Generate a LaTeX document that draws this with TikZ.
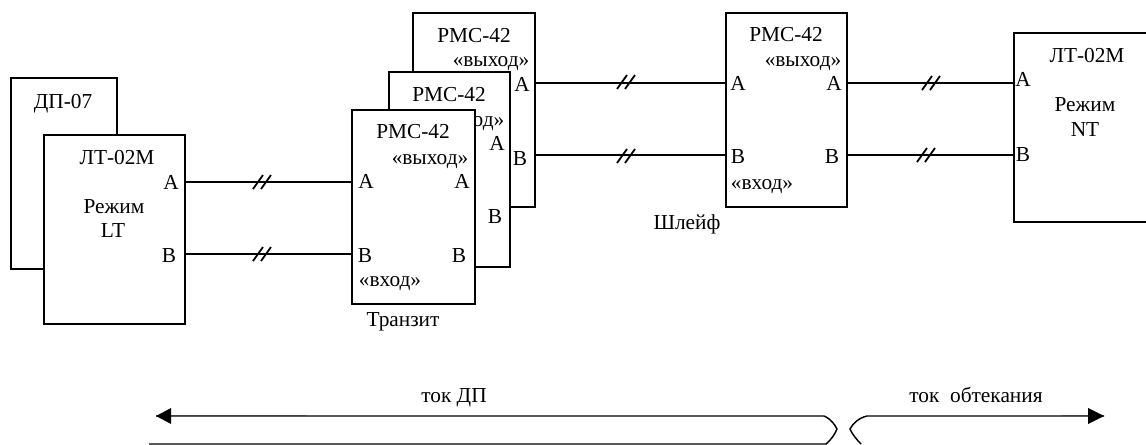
\documentclass[tikz,border=0pt]{standalone}
\usepackage{fontspec}
\setmainfont{Liberation Serif}
\tikzset{
  x=0.75pt,y=-0.75pt,
  blockbox/.style n args={2}{draw=black,line width=1.4pt,fill=white,inner sep=0pt,outer sep=0pt,anchor=north west,minimum width=#1*0.75pt,minimum height=#2*0.75pt},
  openbox/.style={draw=black,line width=1.4pt},
  wire/.style={draw=black,line width=1.3pt},
  lbl/.style={inner sep=0pt,font=\fontsize{16}{16}\selectfont,anchor=base},
  arrowline/.style={draw=black,line width=1.1pt},
}
\newcommand{\slashes}[2]{\draw[line width=1.35pt] (#1,#2+7) -- (#1+10,#2-7) (#1+8,#2+7) -- (#1+18,#2-7);}
\begin{document}
\begin{tikzpicture}
\useasboundingbox (0,0) rectangle (1146,445);
% left group
\node[blockbox={106}{191}] (dpbox) at (11,78) {};
\node[blockbox={141}{189}] (ltbox) at (44,135) {};
\node[lbl] (dp) at (63,109) {ДП-07};
\node[lbl] (lt) at (117,165) {ЛТ-02М};
\node[lbl] (rl1) at (114,214) {Режим};
\node[lbl] (rl2) at (113,238) {LT};
\node[lbl] (la) at (171,190) {A};
\node[lbl] (lb) at (169,263) {B};
% stacked
\node[blockbox={122}{194}] (box1) at (413,13) {};
\node[lbl] (t1) at (474,43) {РМС-42};
\node[lbl] (o1) at (491,67) {«выход»};
\node[lbl] (a1) at (522,92) {A};
\node[lbl] (b1) at (520,166) {B};
\node[blockbox={121}{195}] (box2) at (389,72) {};
\node[lbl] (t2) at (449,102) {РМС-42};
\node[lbl] (o2) at (466,127) {«выход»};
\node[lbl] (a2) at (497,151) {A};
\node[lbl] (b2) at (495,224) {B};
\node[blockbox={123}{194}] (box3) at (352,110) {};
\node[lbl] (t3) at (413,139) {РМС-42};
\node[lbl] (o3) at (430,165) {«выход»};
\node[lbl] (a3a) at (366,189) {A};
\node[lbl] (a3b) at (462,189) {A};
\node[lbl] (b3a) at (365,263) {B};
\node[lbl] (b3b) at (459,263) {B};
\node[lbl] (i3) at (390,287) {«вход»};
\node[lbl] (tr) at (403,327) {Транзит};
% loop
\node[blockbox={121}{194}] (box4) at (726,13) {};
\node[lbl] (t4) at (786,42) {РМС-42};
\node[lbl] (o4) at (803,67) {«выход»};
\node[lbl] (a4a) at (738,91) {A};
\node[lbl] (a4b) at (834,91) {A};
\node[lbl] (b4a) at (738,164) {B};
\node[lbl] (b4b) at (832,164) {B};
\node[lbl] (i4) at (762,190) {«вход»};
\node[lbl] (sh) at (687,230) {Шлейф};
% right (runs off the page edge)
\coordinate (rboxw) at (1014,128);
\draw[openbox] (1146,33) -- (1014,33) -- (1014,222) -- (1146,222);
\node[lbl] (t5) at (1087,63) {ЛТ-02М};
\node[lbl] (r1) at (1085,112) {Режим};
\node[lbl] (r2) at (1085,137) {NT};
\node[lbl] (a5) at (1023,87) {A};
\node[lbl] (b5) at (1023,162) {B};
% wire levels
\coordinate (ya) at (0,182);
\coordinate (yb) at (0,254);
\coordinate (yc) at (0,83);
\coordinate (yd) at (0,155);
\draw[wire] (ltbox.east |- ya) -- (box3.west |- ya);
\draw[wire] (ltbox.east |- yb) -- (box3.west |- yb);
\draw[wire] (box1.east |- yc) -- (box4.west |- yc);
\draw[wire] (box1.east |- yd) -- (box4.west |- yd);
\draw[wire] (box4.east |- yc) -- (rboxw |- yc);
\draw[wire] (box4.east |- yd) -- (rboxw |- yd);
\slashes{253}{182}\slashes{253}{254}\slashes{617}{82}\slashes{617}{156}\slashes{922}{83}\slashes{917}{155}
% bottom labels
\node[lbl] (tokdp) at (454,402) {ток ДП};
\node[lbl] (tokob) at (976,402) {ток\ \ обтекания};
% bottom brace lines
\coordinate (al) at (156,416);
\coordinate (ar) at (1104,416);
\draw[arrowline] (al) -- (824,416) .. controls (831,419) and (835,425) .. (837,429) .. controls (835,434) and (831,440) .. (826,444) -- (149,444);
\draw[arrowline] (ar) -- (867,416) .. controls (859,418) and (853,423) .. (850,429) .. controls (852,434) and (857,440) .. (861,444);
\draw[line width=1.2pt,black!75] (171,415.5) -- (306,415.5);
\draw[line width=1.2pt,black!75] (1062,415.5) -- (1088,415.5);
\fill (al) -- (171,408) -- (171,424) -- cycle;
\fill (ar) -- (1088,408) -- (1088,424) -- cycle;
\end{tikzpicture}
\end{document}
